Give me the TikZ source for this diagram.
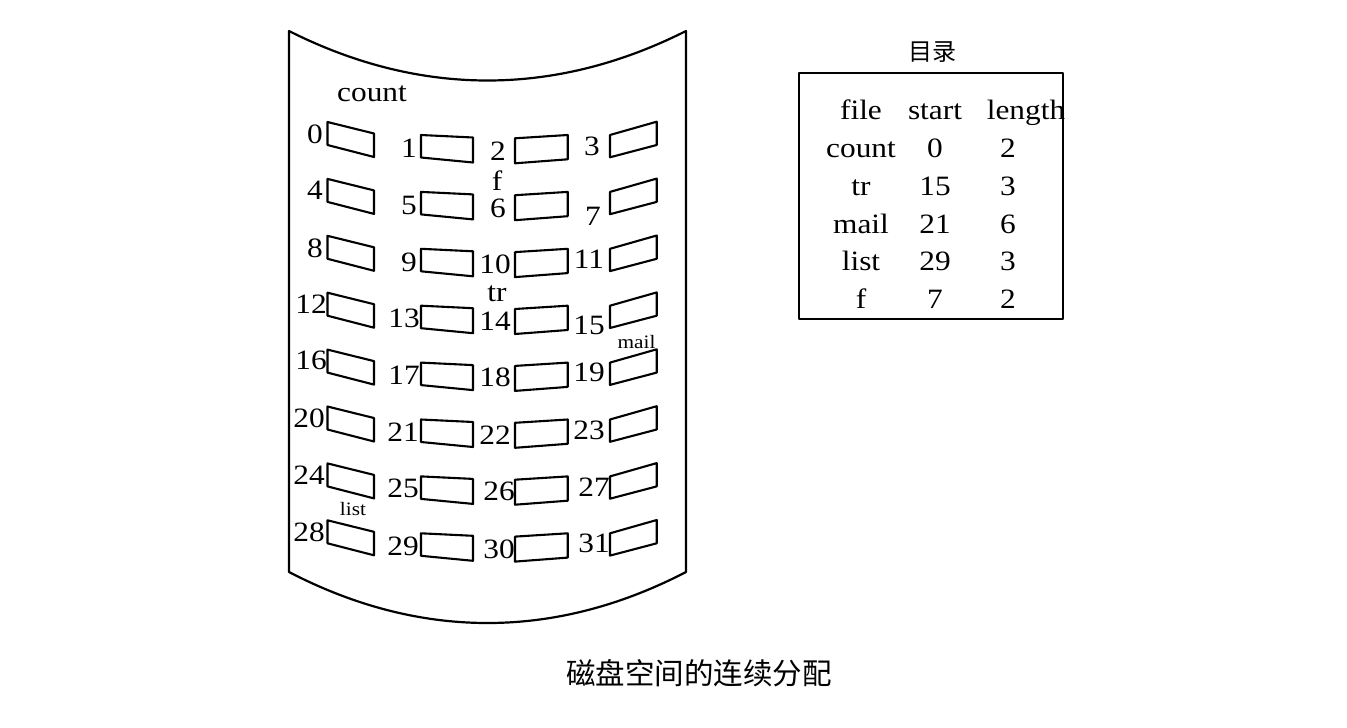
\documentclass[tikz,border=0pt]{standalone}
\usepackage{fontspec}
\setmainfont{Liberation Serif}[FakeStretch=1.12]
\newfontfamily\cjk{Noto Sans CJK SC}
\begin{document}
\begin{tikzpicture}[x=1pt,y=-1pt,line join=round,
  outline/.style={draw,line width=2.2pt},
  blk/.style={draw,line width=2.1pt},
  num/.style={font=\fontsize{28}{28}\selectfont,anchor=base,inner sep=0pt},
  tag/.style={font=\fontsize{28}{28}\selectfont,anchor=base,inner sep=0pt},
  smalltag/.style={font=\fontsize{19}{19}\selectfont,anchor=base,inner sep=0pt},
  cell/.style={font=\fontsize{28}{28}\selectfont,anchor=base,inner sep=0pt}]
\useasboundingbox (0,0) rectangle (1347,728);

% disk surface
\draw[outline] (289,31) .. controls (420,97) and (555,97) .. (686,31)
  -- (686,572) .. controls (555,640) and (420,640) .. (289,572) -- cycle;

% the 32 blocks, four columns, eight rows
\foreach \r in {0,...,7}{
  \pgfmathsetmacro\y{122+56.9*\r}
  \draw[blk] (327.5,\y) -- (374,{\y+11.5}) -- (374,{\y+35}) -- (327.5,{\y+23}) -- cycle;
  \draw[blk] (421,{\y+13}) -- (473,{\y+15.5}) -- (473,{\y+40.5}) -- (421,{\y+35.5}) -- cycle;
  \draw[blk] (515,{\y+16.3}) -- (567.7,{\y+13}) -- (567.7,{\y+37.3}) -- (515,{\y+41.3}) -- cycle;
  \draw[blk] (610,{\y+13}) -- (656.7,{\y-0.3}) -- (656.7,{\y+23}) -- (610,{\y+35.3}) -- cycle;
}

% block numbers
\foreach \n/\x/\y in {0/315/134,1/409/148,2/498/151,3/592/146,
  4/315/190,5/409/205,6/498/208,7/593/216,
  8/315/248,9/409/262,10/495/264,11/589/259,
  12/311/304,13/404/318,14/495/321,15/589/325,
  16/311/360,17/404/375,18/495/377,19/589/372,
  20/309/418,21/403/432,22/495/435,23/589/430,
  24/309/475,25/403/488,26/499/491,27/594/487,
  28/309/532,29/403/546,30/499/549,31/594/543}{
  \node[num] (n\n) at (\x,{\y+9.5}) {\n};
}

% file names on the disk
\node[tag] (tcount) at (372,101) {count};
\node[tag] (tf) at (497,190) {f};
\node[tag] (ttr) at (497,301.5) {tr};
\node[smalltag] (tmail) at (636.5,348) {mail};
\node[smalltag] (tlist) at (353,515) {list};

% directory
\node[font=\fontsize{24}{24}\selectfont\cjk] (dirtitle) at (932,52) {目录};
\node[draw,line width=2.1pt,minimum width=264pt,minimum height=246pt,inner sep=0pt] (dir) at (931,196) {};
\foreach \a/\b/\y in {file/start/119,count/0/157,tr/15/195,mail/21/233,list/29/270,f/7/308}{
  \node[cell] (c\a) at (861,\y) {\a};
  \node[cell] (s\a) at (935,\y) {\b};
}
\node[cell] (lfile) at (1026,119) {length};
\foreach \c/\y [count=\i] in {2/157,3/195,6/233,3/270,2/308}{
  \node[cell] (l\i) at (1008,\y) {\c};
}

% caption
\node[font=\fontsize{29.5}{29.5}\selectfont\cjk] (caption) at (699,673) {磁盘空间的连续分配};
\end{tikzpicture}
\end{document}
